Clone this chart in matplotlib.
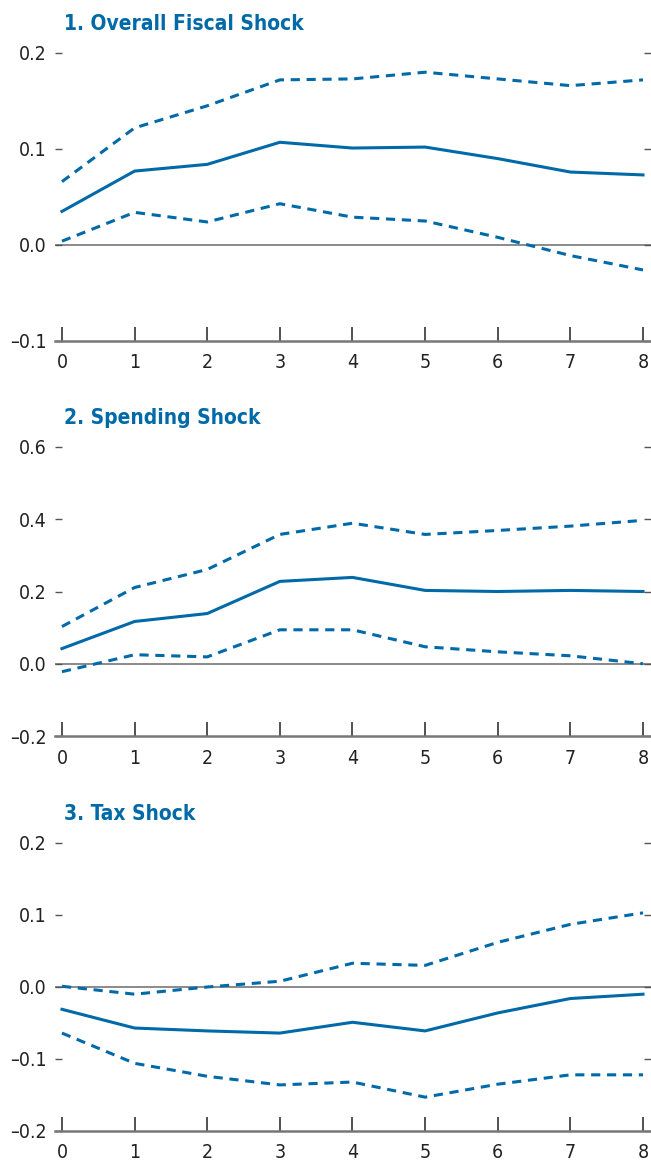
import matplotlib
matplotlib.use("Agg")
import matplotlib.pyplot as plt

horizon = [0, 1, 2, 3, 4, 5, 6, 7, 8]

titles = ["1. Overall Fiscal Shock", "2. Spending Shock", "3. Tax Shock"]

# point estimate and confidence bands per panel
overall_mid = [0.035, 0.077, 0.084, 0.107, 0.101, 0.102, 0.090, 0.076, 0.073]
overall_hi = [0.066, 0.122, 0.145, 0.172, 0.173, 0.180, 0.173, 0.166, 0.172]
overall_lo = [0.004, 0.034, 0.024, 0.043, 0.029, 0.025, 0.008, -0.011, -0.026]

spend_mid = [0.042, 0.117, 0.139, 0.228, 0.239, 0.203, 0.200, 0.203, 0.200]
spend_hi = [0.103, 0.211, 0.261, 0.358, 0.389, 0.358, 0.369, 0.381, 0.397]
spend_lo = [-0.022, 0.025, 0.019, 0.094, 0.094, 0.047, 0.033, 0.022, 0.0]

tax_mid = [-0.031, -0.057, -0.061, -0.064, -0.049, -0.061, -0.036, -0.016, -0.010]
tax_hi = [0.001, -0.010, 0.0, 0.008, 0.033, 0.030, 0.062, 0.087, 0.103]
tax_lo = [-0.064, -0.106, -0.124, -0.136, -0.132, -0.153, -0.135, -0.122, -0.122]

yticks = [[-0.1, 0.0, 0.1, 0.2], [-0.2, 0.0, 0.2, 0.4, 0.6], [-0.2, -0.1, 0.0, 0.1, 0.2]]

panels = [
    (overall_mid, overall_hi, overall_lo),
    (spend_mid, spend_hi, spend_lo),
    (tax_mid, tax_hi, tax_lo),
]

blue = "#0069A8"
grey = "#777777"

fig = plt.figure(figsize=(6.51, 11.63), dpi=100)
W, H = 651, 1163
# (top, bottom) pixel rows of each plot area
rows = [(53, 341), (447, 736), (843, 1131)]

for i, (mid, hi, lo) in enumerate(panels):
    top, bot = rows[i]
    ax = fig.add_axes([55 / W, 1 - bot / H, 1 - 55 / W, (bot - top) / H])
    ax.plot(horizon, mid, color=blue, lw=2.2, solid_joinstyle="round")
    ax.plot(horizon, hi, color=blue, lw=2.2, ls=(0, (3, 2.2)))
    ax.plot(horizon, lo, color=blue, lw=2.2, ls=(0, (3, 2.2)))
    ax.axhline(0, color=grey, lw=1.2, zorder=0)

    yt = yticks[i]
    ax.set_ylim(yt[0], yt[-1])
    ax.set_xlim(-0.096, 8.11)
    ax.set_xticks(horizon)
    ax.set_yticks(yt)
    ax.set_yticklabels([("\u2013" if v < 0 else "") + f"{abs(v):.1f}" for v in yt])

    for s in ["top", "left", "right"]:
        ax.spines[s].set_visible(False)
    ax.spines["bottom"].set_color(grey)
    ax.spines["bottom"].set_linewidth(1.8)

    ax.tick_params(axis="x", direction="in", length=10, width=1.2, color="#333333",
                   labelsize=14, labelcolor="#222222", pad=9)
    ax.tick_params(axis="y", direction="in", length=5, width=1.0, color="#555555",
                   labelsize=14, labelcolor="#222222", pad=6, right=True)
    for lab in ax.get_xticklabels() + ax.get_yticklabels():
        lab.set_family("DejaVu Sans")
        lab.set_stretch("condensed")
    for t in ax.yaxis.get_major_ticks():
        t.tick1line.set_clip_on(False)
        t.tick2line.set_clip_on(False)

    fig.text(64 / W, 1 - (top - 29) / H, titles[i], color=blue, fontsize=15,
             fontweight="bold", family="DejaVu Sans", stretch="condensed",
             va="center", ha="left")

fig.savefig("out.png", dpi=100)
